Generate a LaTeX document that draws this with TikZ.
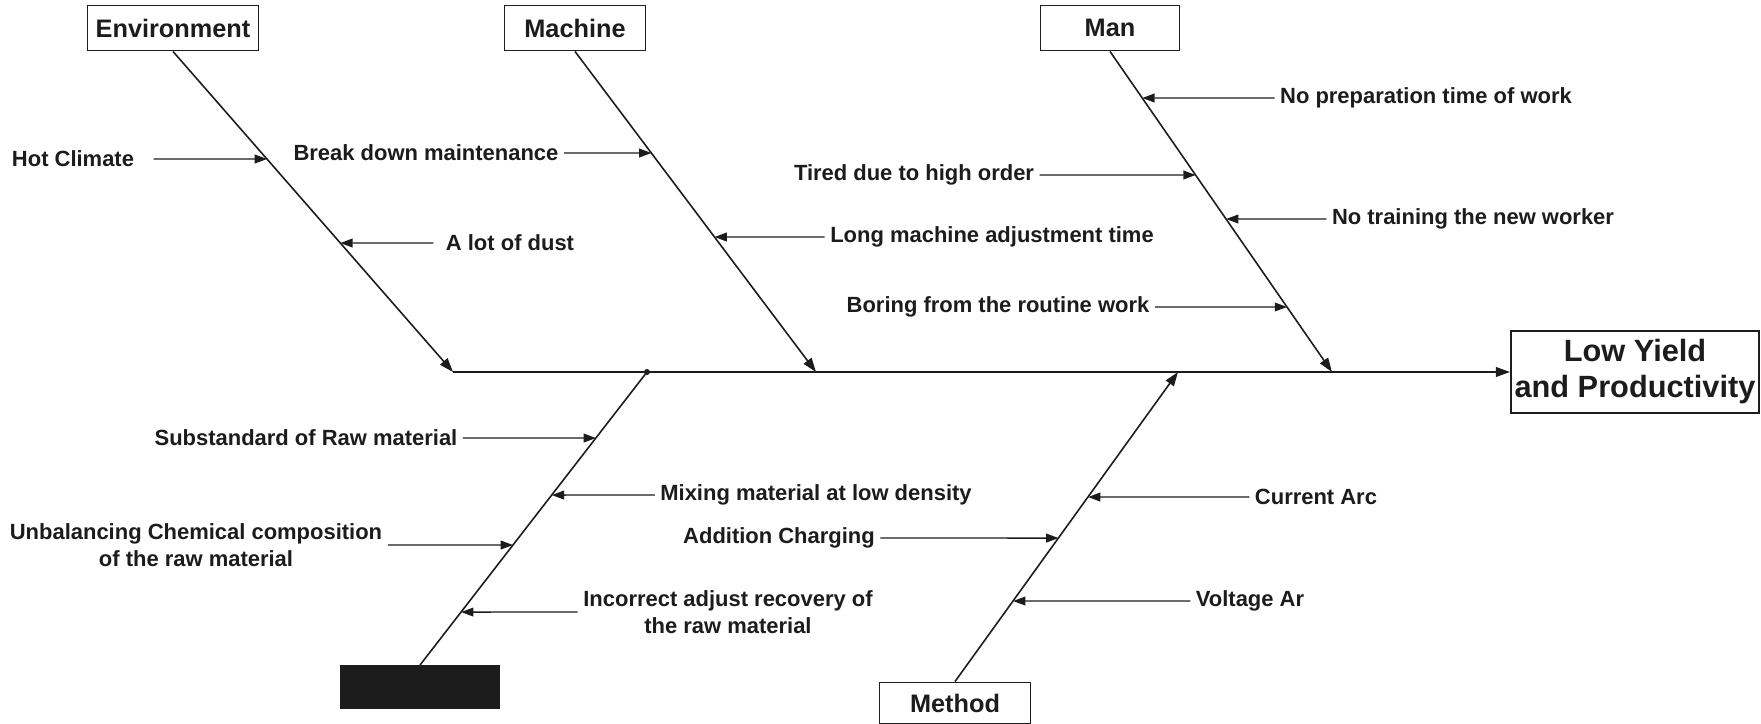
\documentclass[tikz,border=0pt]{standalone}
\usepackage{fontspec}
\setmainfont{Liberation Sans}
\usepackage{tikz}
\usetikzlibrary{arrows.meta}
\definecolor{fInk}{HTML}{1C1C1C}
\tikzset{
  catbox/.style={draw=fInk, line width=1.1pt, fill=white, text=fInk, inner sep=2pt,
    minimum height=9mm, font=\fontsize{14.4}{16}\selectfont\bfseries, align=center},
  causetext/.style={text=fInk, font=\fontsize{12.5}{15}\selectfont\bfseries, align=center, inner sep=3pt},
  bone/.style={draw=fInk, line width=0.9pt, -{Triangle[length=8pt,width=5.5pt]}},
  causearrow/.style={draw=fInk, line width=0.8pt, -{Triangle[length=7pt,width=5pt]}},
}

\begin{document}
\begin{tikzpicture}[x=0.2mm, y=-0.2mm]
  \useasboundingbox (0,0) rectangle (1761,724);
  % category boxes and the effect
  \node[catbox, minimum width=34.2mm] (env) at (173,28) {Environment};
  \node[catbox, minimum width=28.2mm] (mach) at (575,28) {Machine};
  \node[catbox, minimum width=27.8mm] (man) at (1110,28) {Man};
  \node[catbox, fill=fInk, minimum width=31.6mm, minimum height=8.4mm] (mat) at (420,687) {};
  \node[catbox, minimum width=30.2mm, minimum height=8.2mm] (meth) at (955,703) {Method};
  \node[catbox, minimum width=49.6mm, minimum height=16.4mm,
    font=\fontsize{17.5}{20.5}\selectfont\bfseries] (eff) at (1635,372) {Low Yield\\and Productivity};
  % joints on the spine
  \coordinate (jenv) at (453,372);
  \coordinate (jmat) at (647,372);
  \coordinate (jmach) at (816,372);
  \coordinate (jmeth) at (1178,372);
  \coordinate (jman) at (1332,372);
  % spine and bones
  \draw[bone] (jenv) -- (eff.west);
  \draw[bone] (env.south) -- (jenv);
  \draw[bone] (mach.south) -- (jmach);
  \draw[bone] (man.south) -- (jman);
  \draw[bone] (meth.north) -- (jmeth);
  \draw[fInk, line width=0.9pt] (mat.north) -- (jmat);
  \fill[fInk] (jmat) circle (3);
  % causes
  \node[causetext] (hot) at (73,159) {Hot Climate};
  \node[causetext] (brk) at (426,153) {Break down maintenance};
  \node[causetext] (dust) at (510,243) {A lot of dust};
  \node[causetext] (adj) at (992,237) {Long machine adjustment time};
  \node[causetext] (prep) at (1426,98) {No preparation time of work};
  \node[causetext] (tired) at (914,175) {Tired due to high order};
  \node[causetext] (train) at (1473,219) {No training the new worker};
  \node[causetext] (bore) at (998,307) {Boring from the routine work};
  \node[causetext] (subst) at (306,438) {Substandard of Raw material};
  \node[causetext] (mix) at (816,495) {Mixing material at low density};
  \node[causetext] (chem) at (196,545) {Unbalancing Chemical composition\\of the raw material};
  \node[causetext] (recov) at (728,612) {Incorrect adjust recovery of\\the raw material};
  \node[causetext] (arc) at (1316,497) {Current Arc};
  \node[causetext] (charge) at (779,538) {Addition Charging};
  \node[causetext] (volt) at (1250,601) {Voltage Ar};
  % cause arrows
  \draw[causearrow, shorten <=8pt] (hot.east) -- (intersection of env.south--jenv and hot.west--hot.east);
  \draw[causearrow, shorten <=4pt] (dust.west) -- (intersection of env.south--jenv and dust.west--dust.east);
  \draw[causearrow] (brk.east) -- (intersection of mach.south--jmach and brk.west--brk.east);
  \draw[causearrow] (adj.west) -- (intersection of mach.south--jmach and adj.west--adj.east);
  \draw[causearrow] (prep.west) -- (intersection of man.south--jman and prep.west--prep.east);
  \draw[causearrow] (tired.east) -- (intersection of man.south--jman and tired.west--tired.east);
  \draw[causearrow] (train.west) -- (intersection of man.south--jman and train.west--train.east);
  \draw[causearrow] (bore.east) -- (intersection of man.south--jman and bore.west--bore.east);
  \draw[causearrow] (subst.east) -- (intersection of mat.north--jmat and subst.west--subst.east);
  \draw[causearrow] (mix.west) -- (intersection of mat.north--jmat and mix.west--mix.east);
  \draw[causearrow] (chem.east) -- (intersection of mat.north--jmat and chem.west--chem.east);
  \draw[causearrow] (recov.west) -- (intersection of mat.north--jmat and recov.west--recov.east);
  \draw[causearrow] (arc.west) -- (intersection of meth.north--jmeth and arc.west--arc.east);
  \draw[causearrow] (charge.east) -- (intersection of meth.north--jmeth and charge.west--charge.east);
  \draw[causearrow] (volt.west) -- (intersection of meth.north--jmeth and volt.west--volt.east);
\end{tikzpicture}
\end{document}
